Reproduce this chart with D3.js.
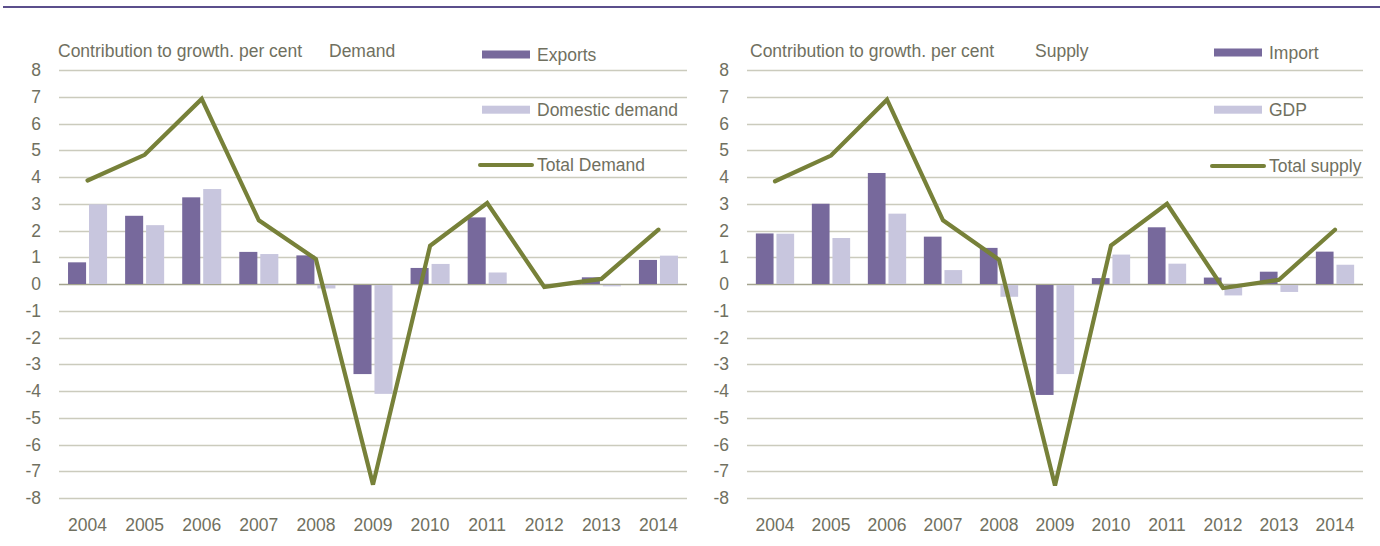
<!DOCTYPE html>
<html>
<head>
<meta charset="utf-8">
<script src="https://cdn.jsdelivr.net/npm/d3@7/dist/d3.min.js"></script>
<style>
  body { margin: 0; background: #fff; }
  svg text { font-family: "Liberation Sans", Arial, sans-serif; fill: #707060; font-size: 17.5px; }
</style>
</head>
<body>
<div id="chart"></div>
<script>
var years = ["2004","2005","2006","2007","2008","2009","2010","2011","2012","2013","2014"];

// demand side
var exports_vals  = [0.81, 2.55, 3.24, 1.20, 1.07, -3.33, 0.60, 2.49, 0.00, 0.25, 0.90];
var domestic_vals = [2.98, 2.20, 3.55, 1.12, -0.13, -4.07, 0.75, 0.43, 0.00, -0.05, 1.06];
var total_demand  = [3.87, 4.83, 6.92, 2.38, 0.93, -7.50, 1.43, 3.03, -0.11, 0.19, 2.03];

// supply side
var import_vals   = [1.89, 3.00, 4.15, 1.77, 1.35, -4.11, 0.22, 2.12, 0.24, 0.46, 1.21];
var gdp_vals      = [1.88, 1.72, 2.63, 0.52, -0.44, -3.33, 1.10, 0.76, -0.39, -0.26, 0.72];
var total_supply  = [3.84, 4.80, 6.89, 2.38, 0.91, -7.53, 1.44, 3.00, -0.15, 0.16, 2.03];

var y_ticks = [8,7,6,5,4,3,2,1,0,-1,-2,-3,-4,-5,-6,-7,-8];

var col_dark = "#77699c";
var col_light = "#c8c6de";
var col_line = "#778139";
var col_grid = "#cbcbbd";

var width = 1380, height = 546;

var svg = d3.select("#chart").append("svg")
	.attr("width", width)
	.attr("height", height);

// purple rule at the top
svg.append("line")
	.attr("x1", 3).attr("x2", width)
	.attr("y1", 7).attr("y2", 7)
	.attr("stroke", "#5b4f8c")
	.attr("stroke-width", 2.2);

var y = d3.scaleLinear().domain([-8, 8]).range([498, 70]);

function draw_panel(p){
	var g = svg.append("g");

	var x = d3.scaleBand()
		.domain(years)
		.range([p.x0, p.x1])
		.padding(0);

	var xs = d3.scaleBand()
		.domain([0, 1])
		.range([0, x.bandwidth()])
		.paddingInner(0.14)
		.paddingOuter(0.43);

	// grid
	g.selectAll(".grid")
		.data(y_ticks)
		.enter()
		.append("line")
		.attr("class", "grid")
		.attr("x1", p.x0)
		.attr("x2", p.x1)
		.attr("y1", function(d){ return Math.round(y(d)) + 0.5; })
		.attr("y2", function(d){ return Math.round(y(d)) + 0.5; })
		.attr("stroke", function(d){ return d == 0 ? "#a4a48e" : col_grid; })
		.attr("stroke-width", function(d){ return d == 0 ? 1.6 : 1.3; });

	// y tick labels
	g.selectAll(".ylab")
		.data(y_ticks)
		.enter()
		.append("text")
		.attr("class", "ylab")
		.attr("x", p.x0 - 18)
		.attr("y", function(d){ return y(d); })
		.attr("dy", "0.35em")
		.attr("text-anchor", "end")
		.text(function(d){ return d; });

	// x labels
	g.selectAll(".xlab")
		.data(years)
		.enter()
		.append("text")
		.attr("class", "xlab")
		.attr("x", function(d){ return x(d) + x.bandwidth()/2; })
		.attr("y", 531)
		.attr("text-anchor", "middle")
		.text(function(d){ return d; });

	// bars
	var series = [p.a, p.b];
	var cols = [col_dark, col_light];
	series.forEach(function(vals, k){
		g.selectAll(".bar" + k)
			.data(vals)
			.enter()
			.append("rect")
			.attr("class", "bar" + k)
			.attr("x", function(d, i){ return x(years[i]) + xs(k); })
			.attr("width", xs.bandwidth())
			.attr("y", function(d){ return d >= 0 ? y(d) : y(0) + 1; })
			.attr("height", function(d){ return Math.abs(y(d) - y(0)); })
			.attr("fill", cols[k]);
	});

	// total line
	var line = d3.line()
		.x(function(d, i){ return x(years[i]) + x.bandwidth()/2; })
		.y(function(d){ return y(d); });

	g.append("path")
		.datum(p.total)
		.attr("d", line)
		.attr("fill", "none")
		.attr("stroke", col_line)
		.attr("stroke-width", 4.2)
		.attr("stroke-linecap", "round");

	// titles
	g.append("text")
		.attr("x", p.title_x)
		.attr("y", 57)
		.text("Contribution to growth. per cent");

	g.append("text")
		.attr("x", p.sub_x)
		.attr("y", 57)
		.text(p.sub);

	// legend
	var lg = g.append("g");
	var items = [
		{ name: p.names[0], type: "rect", col: col_dark, cy: p.leg_y[0] },
		{ name: p.names[1], type: "rect", col: col_light, cy: p.leg_y[1] },
		{ name: p.names[2], type: "line", col: col_line, cy: p.leg_y[2] }
	];
	items.forEach(function(it){
		if(it.type == "rect"){
			lg.append("rect")
				.attr("x", p.leg_x)
				.attr("y", it.cy - 4)
				.attr("width", 48)
				.attr("height", 8)
				.attr("fill", it.col);
		} else {
			lg.append("line")
				.attr("x1", p.leg_x - 2)
				.attr("x2", p.leg_x + 50)
				.attr("y1", it.cy)
				.attr("y2", it.cy)
				.attr("stroke", it.col)
				.attr("stroke-width", 4)
				.attr("stroke-linecap", "round");
		}
		lg.append("text")
			.attr("x", p.leg_x + 55)
			.attr("y", it.cy)
			.attr("dy", "0.35em")
			.text(it.name);
	});
}

draw_panel({
	x0: 59, x1: 687, title_x: 58,
	a: exports_vals, b: domestic_vals, total: total_demand,
	sub: "Demand", sub_x: 329,
	names: ["Exports", "Domestic demand", "Total Demand"],
	leg_x: 482, leg_y: [54.5, 109.7, 165]
});

draw_panel({
	x0: 747, x1: 1363, title_x: 750,
	a: import_vals, b: gdp_vals, total: total_supply,
	sub: "Supply", sub_x: 1035,
	names: ["Import", "GDP", "Total supply"],
	leg_x: 1214, leg_y: [52.5, 109.7, 166]
});
</script>
</body>
</html>
